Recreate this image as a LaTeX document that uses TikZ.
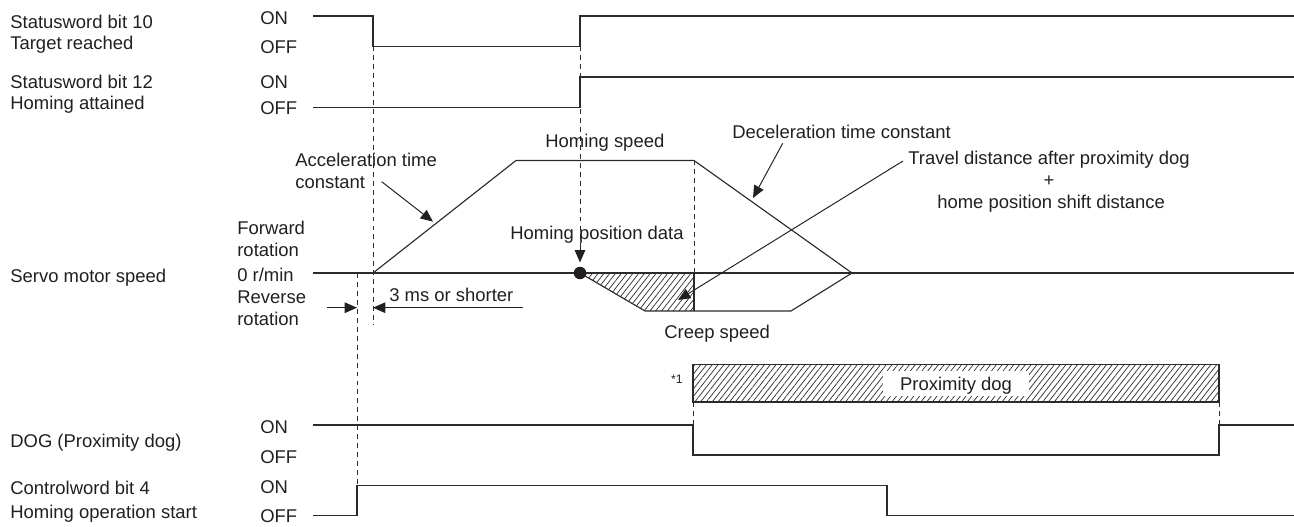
\documentclass[tikz,border=0pt]{standalone}
\usepackage{fontspec}
\setmainfont{Liberation Sans}
\usetikzlibrary{arrows.meta,patterns.meta}
\definecolor{ink}{HTML}{231F20}
\definecolor{sig}{HTML}{2B2B2B}
\begin{document}
\begin{tikzpicture}[x=0.02cm,y=-0.02cm,
  txt/.style={font=\fontsize{10.5}{12.6}\selectfont, text=ink, inner sep=0pt, text height=7.5pt, text depth=0pt},
  lbl/.style={txt, anchor=west},
  small/.style={font=\fontsize{7}{8}\selectfont, text=ink, inner sep=0pt},
  wave/.style={draw=sig, line width=0.65pt},
  guide/.style={draw=sig, line width=0.55pt, dash pattern=on 2.8pt off 2.3pt},
  tipend/.style={-{Triangle[length=7pt,width=6pt]}},
  pointer/.style={draw=ink, line width=0.55pt, tipend},
  hatch/.style={pattern={Lines[angle=52,distance=2.6pt,line width=0.4pt]}, pattern color=sig}
]
\useasboundingbox (0,0) rectangle (1294,527);

% left labels
\node[lbl] (s10a) at (10,21.7) {Statusword bit 10};
\node[lbl] (s10b) at (10,43.3) {Target reached};
\node[lbl] (s12a) at (10,81.7) {Statusword bit 12};
\node[lbl] (s12b) at (10,103.3) {Homing attained};
\node[lbl] (sms) at (10,275.7) {Servo motor speed};
\node[lbl] (dogl) at (10,441) {DOG (Proximity dog)};
\node[lbl] (cwa) at (10,487.5) {Controlword bit 4};
\node[lbl] (cwb) at (10,511.5) {Homing operation start};

% ON / OFF labels
\node[lbl] (on1) at (260,18.3) {ON};
\node[lbl] (off1) at (260,46.7) {OFF};
\node[lbl] (on2) at (260,81.7) {ON};
\node[lbl] (off2) at (260,108.3) {OFF};
\node[lbl] (on3) at (260,426.7) {ON};
\node[lbl] (off3) at (260,456.7) {OFF};
\node[lbl] (on4) at (260,486.7) {ON};
\node[lbl] (off4) at (260,515.5) {OFF};

% speed axis labels
\node[lbl] (fw1) at (237,228) {Forward};
\node[lbl] (fw2) at (237,250) {rotation};
\node[lbl] (zero) at (237,275) {0 r/min};
\node[lbl] (rv1) at (237,297) {Reverse};
\node[lbl] (rv2) at (237,318.5) {rotation};

% hatched creep area
\fill[hatch] (580,273) -- (694,273) -- (694,311) -- (645,311) -- cycle;

% status word waveforms
\draw[wave] (313,16) -- (373,16) -- (373,46.3) -- (580,46.3) -- (580,16) -- (1294,16);
\draw[wave] (313,107.7) -- (580,107.7) -- (580,77) -- (1294,77);

% speed
\draw[wave] (313,273) -- (1294,273);
\draw[wave] (373,273) -- (516,160.5) -- (694,160.5) -- (852,273);
\draw[wave] (580,273) -- (645,311) -- (791,311) -- (852,273);
\draw[wave] (694,273) -- (694,311);

% proximity dog box
\draw[wave, hatch] (693,364.5) rectangle (1219,402);
\node[txt, fill=white, inner xsep=10pt, inner ysep=3.5pt] (pdog) at (956,383.5) {Proximity dog};
\node[small] (note) at (677,379) {*1};

% DOG waveform
\draw[wave] (313,425) -- (693,425) -- (693,455) -- (1219,455) -- (1219,425) -- (1294,425);

% controlword waveform
\draw[wave] (313,515.5) -- (357,515.5) -- (357,485.5) -- (887,485.5) -- (887,515.5) -- (1294,515.5);

% guides
\draw[guide] (373,46.3) -- (373,325);
\draw[guide] (357,273) -- (357,485.5);
\draw[guide] (580,46.3) -- (580,252);
\draw[guide] (694,160.5) -- (694,273);
\draw[guide] (693,402) -- (693,425);
\draw[guide] (1219,402) -- (1219,425);

% home dot and its arrow
\node[circle, fill=ink, inner sep=0pt, minimum size=0.25cm] (dot) at (580,273) {};
\coordinate (hpdtop) at (580,248);
\draw[pointer] (hpdtop) -- ([yshift=0.08cm]dot.north);

% 3 ms marker
\coordinate (msL) at (326.7,307.7);
\coordinate (msA) at (357,307.7);
\coordinate (msR) at (523,307.7);
\coordinate (msB) at (373,307.7);
\draw[pointer] (msL) -- (msA);
\draw[pointer] (msR) -- (msB);
\node[lbl] (ms) at (389,295) {3 ms or shorter};

% annotations
\node[lbl] (acc1) at (295,160) {Acceleration time};
\node[lbl] (acc2) at (295,182) {constant};
\coordinate (accs) at (381.7,181.7);
\coordinate (acct) at (433,221.7);
\draw[pointer] (accs) -- (acct);

\node[lbl] (hs) at (545,141) {Homing speed};

\node[lbl] (dec) at (732,131.7) {Deceleration time constant};
\coordinate (decs) at (782.7,143.3);
\coordinate (dect) at (753,198);
\draw[pointer] (decs) -- (dect);

\node[lbl] (hpd) at (510,233) {Homing position data};

\node[lbl] (tr1) at (908,158) {Travel distance after proximity dog};
\node[txt] (tr2) at (1049,180) {+};
\node[lbl] (tr3) at (937,202) {home position shift distance};
\coordinate (trs) at (903,161);
\coordinate (trt) at (678,300);
\draw[pointer] (trs) -- (trt);

\node[lbl] (creep) at (664,332) {Creep speed};
\end{tikzpicture}
\end{document}
